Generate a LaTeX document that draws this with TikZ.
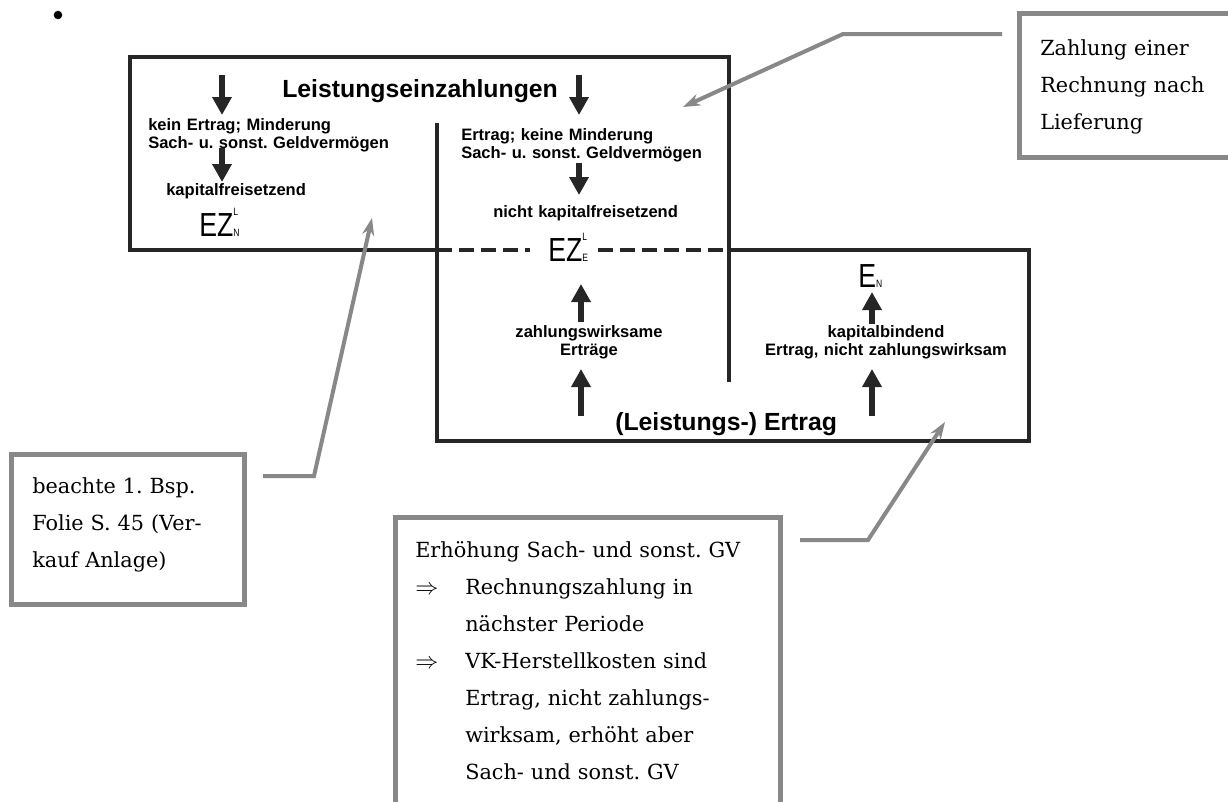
\documentclass[tikz,border=0pt]{standalone}
\usepackage{fontspec}
\setmainfont{Liberation Sans}
\newfontfamily\symfont[FakeStretch=0.8]{Liberation Sans}
\newfontfamily\notefont{DejaVu Serif}
\usetikzlibrary{arrows.meta}
\definecolor{framecol}{HTML}{262626}
\definecolor{notegray}{HTML}{888888}
\newcommand{\smallsym}{\fontsize{8}{8}\selectfont}
\newcommand{\symb}[3]{#1\makebox[0pt][l]{\raisebox{15.75pt}{\smallsym #2}}{\smallsym #3}}
\newcommand{\impl}{\makebox[37.5pt][l]{\fontsize{19}{19}\selectfont$\Rightarrow$}}
\frenchspacing

\begin{document}
\begin{tikzpicture}[x=0.75pt, y=-0.75pt,
boxline/.style={draw=framecol, line width=2.6pt},
dashline/.style={boxline, dash pattern=on 11.25pt off 5.25pt},
blockarrow/.style={draw=framecol, line width=4.5pt, -{Triangle[width=14pt,length=13.5pt]}},
lbl/.style={inner sep=0pt, text width=260pt, font=\bfseries\fontsize{12.4}{14}\selectfont},
heading/.style={inner sep=0pt, anchor=base west, font=\bfseries\fontsize{18.6}{22}\selectfont},
symtext/.style={inner sep=0pt, anchor=base west, font=\symfont\fontsize{25}{25}\selectfont},
notebox/.style={draw=notegray, line width=3.75pt, fill=white, anchor=north west, inner sep=0pt},
notetext/.style={anchor=base west, inner sep=0pt, text width=300pt, align=left, font=\notefont\fontsize{15.6}{27.75}\selectfont},
pointer/.style={draw=notegray, line width=3pt, -{Stealth[length=13pt,width=9pt]}}]

\useasboundingbox (0,0) rectangle (1228,801);
\clip (0,0) rectangle (1228,801);

\fill[black] (58,15) circle (3.2pt);

% frames
\coordinate (dl) at (437,250);
\coordinate (dr) at (729,250);
\draw[boxline] (dl) -- (130,250) -- (130,57) -- (729,57) -- (729,382);
\draw[boxline] (437,123) -- (437,441) -- (1029,441) -- (1029,250) -- (dr);

% Leistungseinzahlungen
\node[heading] (lez) at (282,97) {Leistungseinzahlungen};
\node[lbl, anchor=base west, align=left] (kein) at (148,130) {kein Ertrag; Minderung\\Sach- u. sonst. Geldverm\"ogen};
\node[lbl, anchor=base west, align=left] (kfz) at (166,195) {kapitalfreisetzend};
\node[symtext] (ezn) at (199,236) {\symb{EZ}{L}{N}};
\node[lbl, anchor=base west, align=left] (ert) at (461,140) {Ertrag; keine Minderung\\Sach- u. sonst. Geldverm\"ogen};
\node[lbl, anchor=base west, align=left] (nkfz) at (493,217) {nicht kapitalfreisetzend};
\node[symtext] (eze) at (548,261) {\symb{EZ}{L}{E}};

\draw[dashline, shorten >=13.5pt] (dl) -- (dl -| eze.west);
\draw[dashline, shorten <=7pt] (dl -| eze.east) -- (dr);

% (Leistungs-) Ertrag
\node[lbl, anchor=base, align=center] (zw) at (589,337) {zahlungswirksame\\Ertr\"age};
\node[lbl, anchor=base, align=center] (kb) at (886,337) {kapitalbindend\\Ertrag, nicht zahlungswirksam};
\node[symtext] (en) at (858,287) {\symb{E}{}{N}};
\node[heading] (ler) at (615,430) {(Leistungs-) Ertrag};

\draw[blockarrow] (222,75) -- (222,115);
\draw[blockarrow] (222,148) -- (222,182);
\draw[blockarrow] (579,75) -- (579,115);
\draw[blockarrow] (579,163) -- (579,195);
\draw[blockarrow] (581,322) -- (581,284);
\draw[blockarrow] (581,416) -- (581,369);
\draw[blockarrow] (872,324) -- (872,292);
\draw[blockarrow] (872,416) -- (872,369);

% Hinweise
\node[notebox, minimum width=167.25pt, minimum height=108pt] (callR) at (1017,11) {};
\node[notetext] (txtR) at ([xshift=17.25pt, yshift=-33pt]callR.north west) {Zahlung einer\\Rechnung nach\\Lieferung};
\node[notebox, minimum width=174.75pt, minimum height=112.5pt] (callL) at (9,452) {};
\node[notetext] (txtL) at ([xshift=17.25pt, yshift=-30.75pt]callL.north west) {beachte 1. Bsp.\\Folie S. 45 (Ver-\\kauf Anlage)};
\node[notebox, minimum width=288.75pt, minimum height=225pt] (callB) at (393,515) {};
\node[notetext] (txtB) at ([xshift=16.5pt, yshift=-31.5pt]callB.north west) {Erh\"ohung Sach- und sonst. GV\\
\impl Rechnungszahlung in\\
\hspace*{37.5pt}n\"achster Periode\\
\impl VK-Herstellkosten sind\\
\hspace*{37.5pt}Ertrag, nicht zahlungs-\\
\hspace*{37.5pt}wirksam, erh\"oht aber\\
\hspace*{37.5pt}Sach- und sonst. GV};

\coordinate (tipR) at (683,107);
\coordinate (tipL) at (372,218);
\coordinate (tipB) at (945,422);
\draw[pointer] ([xshift=-11.25pt, yshift=-17.25pt]callR.north west) -- (843,34) -- (tipR);
\draw[pointer] ([xshift=12pt, yshift=-18pt]callL.north east) -- (314,476) -- (tipL);
\draw[pointer] ([xshift=12.75pt, yshift=-18.75pt]callB.north east) -- (868,540) -- (tipB);

\end{tikzpicture}
\end{document}
